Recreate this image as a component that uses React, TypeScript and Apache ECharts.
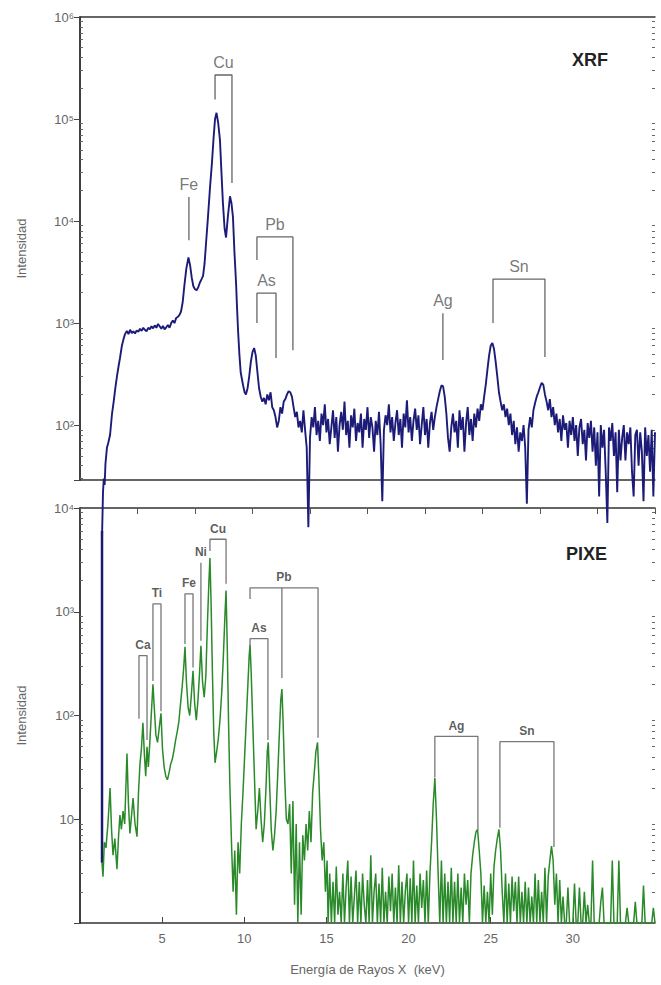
import React, { useEffect, useRef } from "react";
import * as echarts from "echarts";

// XRF spectrum: [energy (keV), counts]
const xrfSpectrum: number[][] = [
  [1.34, 8], [1.40, 22], [1.45, 30], [1.50, 26], [1.55, 42], [1.64, 60], [1.73, 68], [1.83, 80], [1.95, 130], [2.05, 170],
  [2.15, 230], [2.25, 300], [2.35, 380], [2.43, 450], [2.55, 600], [2.65, 700], [2.74, 780], [2.85, 840], [2.95, 780], [3.05, 860],
  [3.15, 800], [3.25, 830], [3.35, 790], [3.45, 850], [3.55, 820], [3.65, 880], [3.75, 840], [3.85, 900], [3.95, 860], [4.05, 830],
  [4.15, 900], [4.25, 870], [4.35, 930], [4.45, 890], [4.55, 950], [4.65, 900], [4.75, 980], [4.85, 930], [4.95, 880], [5.05, 940],
  [5.15, 870], [5.25, 910], [5.35, 960], [5.45, 900], [5.55, 1000], [5.65, 1060], [5.75, 1000], [5.85, 1120], [5.95, 1150], [6.05, 1200],
  [6.15, 1300], [6.25, 1600], [6.35, 2300], [6.47, 3400], [6.60, 4400], [6.70, 3700], [6.80, 2800], [6.90, 2300], [7.00, 2150], [7.10, 2100],
  [7.20, 2250], [7.30, 2500], [7.40, 2700], [7.49, 2900], [7.58, 3800], [7.67, 6000], [7.79, 11000], [7.92, 22000], [8.03, 37000], [8.13, 65000],
  [8.22, 100000], [8.31, 115000], [8.41, 92000], [8.52, 62000], [8.61, 30000], [8.70, 15000], [8.80, 8500], [8.89, 6900], [9.00, 11000], [9.13, 17500],
  [9.22, 15000], [9.31, 11000], [9.40, 5000], [9.50, 2450], [9.56, 1400], [9.62, 850], [9.70, 500], [9.78, 330], [9.86, 280], [9.94, 240],
  [10.02, 210], [10.10, 200], [10.2, 230], [10.3, 300], [10.4, 420], [10.5, 520], [10.6, 570], [10.7, 480], [10.8, 330], [10.9, 230],
  [11.0, 190], [11.1, 170], [11.2, 185], [11.3, 160], [11.4, 200], [11.5, 175], [11.6, 210], [11.7, 150], [11.8, 140], [11.9, 120],
  [12.0, 95], [12.1, 110], [12.2, 150], [12.3, 130], [12.4, 170], [12.5, 180], [12.6, 200], [12.7, 215], [12.8, 210], [12.9, 190],
  [13.0, 150], [13.1, 120], [13.2, 135], [13.3, 95], [13.4, 110], [13.5, 85], [13.6, 140], [13.7, 90], [13.8, 60], [13.9, 10],
  [14.0, 75], [14.1, 120], [14.2, 95], [14.3, 150], [14.4, 80], [14.5, 110], [14.6, 70], [14.7, 130], [14.8, 100], [14.9, 160],
  [15.0, 85], [15.1, 115], [15.2, 65], [15.3, 95], [15.4, 140], [15.5, 75], [15.6, 120], [15.7, 55], [15.8, 100], [15.9, 135],
  [16.0, 90], [16.1, 170], [16.2, 80], [16.3, 110], [16.4, 60], [16.5, 125], [16.6, 95], [16.7, 145], [16.8, 70], [16.9, 105],
  [17.0, 85], [17.1, 130], [17.2, 60], [17.3, 115], [17.4, 90], [17.5, 150], [17.6, 75], [17.7, 120], [17.8, 95], [17.9, 55],
  [18.0, 110], [18.1, 80], [18.2, 135], [18.3, 65], [18.4, 18], [18.5, 90], [18.6, 125], [18.7, 100], [18.8, 160], [18.9, 85],
  [19.0, 120], [19.1, 70], [19.2, 105], [19.3, 140], [19.4, 80], [19.5, 115], [19.6, 60], [19.7, 130], [19.8, 95], [19.9, 175],
  [20.0, 85], [20.1, 120], [20.2, 70], [20.3, 110], [20.4, 145], [20.5, 90], [20.6, 125], [20.7, 65], [20.8, 100], [20.9, 150],
  [21.0, 80], [21.1, 115], [21.2, 60], [21.3, 105], [21.4, 135], [21.5, 90], [21.6, 120], [21.7, 150], [21.8, 180], [21.9, 215],
  [22.0, 245], [22.1, 240], [22.2, 190], [22.3, 130], [22.4, 75], [22.5, 55], [22.6, 95], [22.7, 130], [22.8, 85], [22.9, 110],
  [23.0, 60], [23.1, 140], [23.2, 90], [23.3, 120], [23.4, 55], [23.5, 105], [23.6, 150], [23.7, 80], [23.8, 115], [23.9, 70],
  [24.0, 130], [24.1, 95], [24.2, 145], [24.3, 110], [24.4, 160], [24.5, 140], [24.6, 190], [24.7, 250], [24.8, 350], [24.9, 480],
  [25.0, 600], [25.1, 640], [25.2, 560], [25.3, 420], [25.4, 300], [25.5, 210], [25.6, 170], [25.7, 140], [25.8, 160], [25.9, 120],
  [26.0, 145], [26.1, 100], [26.2, 130], [26.3, 80], [26.4, 110], [26.5, 65], [26.6, 95], [26.7, 55], [26.8, 85], [26.9, 70],
  [27.0, 100], [27.1, 60], [27.2, 17], [27.3, 90], [27.4, 120], [27.5, 95], [27.6, 140], [27.7, 165], [27.8, 190], [27.9, 210],
  [28.0, 235], [28.1, 260], [28.2, 250], [28.3, 200], [28.4, 170], [28.5, 140], [28.6, 180], [28.7, 120], [28.8, 150], [28.9, 100],
  [29.0, 130], [29.1, 85], [29.2, 115], [29.3, 70], [29.4, 125], [29.5, 90], [29.6, 105], [29.7, 60], [29.8, 110], [29.9, 80],
  [30.0, 120], [30.1, 70], [30.2, 100], [30.3, 50], [30.4, 95], [30.5, 115], [30.6, 65], [30.7, 90], [30.8, 45], [30.9, 105],
  [31.0, 75], [31.1, 110], [31.2, 55], [31.3, 95], [31.4, 40], [31.5, 85], [31.6, 20], [31.7, 100], [31.8, 60], [31.9, 90],
  [32.0, 35], [32.1, 11], [32.2, 95], [32.3, 70], [32.4, 105], [32.5, 50], [32.6, 85], [32.7, 22], [32.8, 90], [32.9, 45],
  [33.0, 75], [33.1, 100], [33.2, 45], [33.3, 85], [33.4, 65], [33.5, 95], [33.6, 35], [33.7, 20], [33.8, 80], [33.9, 90],
  [34.0, 40], [34.1, 85], [34.2, 55], [34.3, 18], [34.4, 95], [34.5, 50], [34.6, 80], [34.7, 35], [34.8, 90], [34.9, 20],
  [35.0, 85],
];

// PIXE spectrum: [energy (keV), counts]
const pixeSpectrum: number[][] = [
  [1.34, 3.8], [1.40, 2.8], [1.48, 6], [1.58, 5.3], [1.70, 9], [1.83, 20], [1.92, 8], [2.01, 4.5], [2.12, 6.5], [2.25, 3.3],
  [2.35, 7], [2.43, 11], [2.52, 8], [2.62, 12], [2.72, 9], [2.86, 43], [2.95, 14], [3.04, 7.3], [3.14, 11], [3.23, 16],
  [3.35, 9], [3.47, 6.8], [3.56, 18], [3.65, 34], [3.74, 48], [3.83, 85], [3.92, 42], [4.00, 26], [4.08, 50], [4.16, 32],
  [4.25, 55], [4.35, 110], [4.44, 200], [4.52, 120], [4.62, 65], [4.72, 55], [4.82, 75], [4.93, 105], [5.02, 48], [5.12, 32],
  [5.22, 26], [5.32, 24], [5.42, 28], [5.52, 34], [5.62, 38], [5.72, 46], [5.82, 58], [5.92, 70], [6.02, 88], [6.12, 130],
  [6.22, 190], [6.32, 300], [6.39, 460], [6.48, 210], [6.58, 120], [6.68, 100], [6.78, 160], [6.88, 270], [6.98, 130], [7.08, 90],
  [7.18, 140], [7.28, 260], [7.36, 470], [7.46, 210], [7.56, 150], [7.66, 240], [7.76, 800], [7.85, 2000], [7.91, 3300], [7.98, 1200],
  [8.06, 260], [8.14, 70], [8.22, 35], [8.32, 45], [8.42, 60], [8.52, 90], [8.62, 160], [8.72, 350], [8.82, 900], [8.89, 1600],
  [8.96, 500], [9.04, 90], [9.12, 22], [9.22, 6], [9.32, 2], [9.42, 5], [9.52, 1.2], [9.62, 6], [9.72, 3], [9.82, 9],
  [9.92, 18], [10.02, 40], [10.12, 90], [10.22, 200], [10.30, 380], [10.35, 480], [10.42, 260], [10.52, 80], [10.62, 25], [10.72, 8],
  [10.82, 12], [10.92, 20], [11.02, 10], [11.12, 6], [11.22, 9], [11.32, 20], [11.40, 45], [11.46, 55], [11.54, 22], [11.64, 8],
  [11.74, 5], [11.84, 7], [11.94, 12], [12.04, 28], [12.14, 70], [12.22, 140], [12.29, 180], [12.36, 90], [12.46, 25], [12.56, 10],
  [12.66, 9], [12.76, 14], [12.86, 3], [12.96, 15], [13.06, 1.5], [13.16, 9], [13.26, 1], [13.36, 6], [13.46, 1.2], [13.56, 7],
  [13.66, 4], [13.76, 9], [13.86, 5], [13.96, 12], [14.06, 6], [14.16, 18], [14.26, 28], [14.36, 45], [14.46, 55], [14.54, 25],
  [14.64, 8], [14.74, 4], [14.84, 6], [14.94, 2], [15.04, 4], [15.1, 1], [15.2, 3], [15.3, 1], [15.4, 2.5], [15.5, 1],
  [15.6, 3.5], [15.7, 1.2], [15.8, 2], [15.9, 1], [16.0, 3], [16.1, 1], [16.2, 2.2], [16.3, 4], [16.4, 1], [16.5, 2.8],
  [16.6, 1], [16.7, 1.8], [16.8, 3.2], [16.9, 1], [17.0, 2.5], [17.1, 1], [17.2, 3], [17.3, 1.5], [17.4, 1], [17.5, 2.6],
  [17.6, 1], [17.7, 4.5], [17.8, 1], [17.9, 2], [18.0, 3], [18.1, 1], [18.2, 2.4], [18.3, 1], [18.4, 3.4], [18.5, 1],
  [18.6, 2], [18.7, 1], [18.8, 2.8], [18.9, 1.3], [19.0, 3], [19.1, 1], [19.2, 2.2], [19.3, 1], [19.4, 3.6], [19.5, 1],
  [19.6, 2.5], [19.7, 1], [19.8, 2], [19.9, 3], [20.0, 1], [20.1, 2.7], [20.2, 1], [20.3, 4], [20.4, 1], [20.5, 2.3],
  [20.6, 1], [20.7, 3], [20.8, 1.4], [20.9, 2.6], [21.0, 1], [21.1, 3.2], [21.2, 1], [21.3, 3], [21.4, 6], [21.5, 14],
  [21.6, 25], [21.7, 10], [21.8, 3], [21.9, 1], [22.0, 4], [22.1, 1], [22.2, 3], [22.3, 1], [22.4, 2.5], [22.5, 1],
  [22.6, 3.4], [22.7, 1], [22.8, 2.5], [22.9, 1], [23.0, 3], [23.1, 1], [23.2, 2.2], [23.3, 1], [23.4, 3], [23.5, 1.5],
  [23.6, 2.6], [23.7, 1], [23.8, 3], [23.9, 4.5], [24.0, 6], [24.1, 7.5], [24.2, 8], [24.3, 5], [24.4, 3], [24.5, 1],
  [24.6, 2.3], [24.7, 1], [24.8, 2], [24.9, 1], [25.0, 3], [25.1, 1.2], [25.2, 3.5], [25.3, 5], [25.4, 6.5], [25.5, 8],
  [25.6, 5], [25.7, 2], [25.8, 1], [25.9, 3], [26.0, 1], [26.1, 2.4], [26.2, 1], [26.3, 2.8], [26.4, 1.3], [26.5, 2.5],
  [26.6, 1], [26.7, 2.8], [26.8, 1], [26.9, 2], [27.0, 1], [27.1, 2.5], [27.2, 1], [27.3, 2.2], [27.4, 1], [27.5, 1.8],
  [27.6, 1], [27.7, 3], [27.8, 1], [27.9, 2.6], [28.0, 1], [28.1, 2], [28.2, 1], [28.3, 3.4], [28.4, 1], [28.5, 2.8],
  [28.6, 4], [28.7, 5.5], [28.8, 4], [28.9, 1.5], [29.0, 3], [29.1, 1], [29.2, 2.6], [29.3, 1], [29.4, 1.8], [29.5, 1],
  [29.6, 1], [29.7, 2.2], [29.8, 1], [29.9, 1], [30.0, 1], [30.1, 2.4], [30.2, 1], [30.3, 1], [30.4, 2.2], [30.5, 1],
  [30.6, 1], [30.7, 2], [30.8, 1], [30.9, 1.5], [31.0, 1], [31.1, 1], [31.2, 4], [31.3, 1], [31.4, 1], [31.5, 1],
  [31.6, 1], [31.7, 1.6], [31.8, 2.2], [31.9, 1], [32.0, 1], [32.1, 1], [32.2, 1], [32.3, 1], [32.4, 4], [32.5, 1],
  [32.6, 1], [32.7, 1], [32.8, 4], [32.9, 1], [33.0, 1], [33.1, 1], [33.2, 1], [33.3, 1.4], [33.4, 1], [33.5, 1],
  [33.6, 1], [33.7, 1], [33.8, 1.6], [33.9, 1], [34.0, 1], [34.1, 1], [34.2, 1], [34.3, 2.3], [34.4, 1], [34.5, 1],
  [34.6, 1], [34.7, 1], [34.8, 1], [34.9, 1.4], [35.0, 1],
];

// low-energy blue trace in the PIXE panel
const pixeLowEnergyTrace: number[][] = [[1.34, 6000], [1.34, 3.8]];

// peak identification markers: [energy, counts] polylines
const xrfPeakNames = ["Fe", "Cu", "Pb", "As", "Ag", "Sn"];
const xrfPeakMarkers: number[][][] = [
  [[6.63, 6500], [6.63, 17200]],
  [[8.22, 155000], [8.22, 270000], [9.25, 270000], [9.25, 23600]],
  [[10.77, 4150], [10.77, 7000], [12.96, 7000], [12.96, 543]],
  [[10.77, 1000], [10.77, 1970], [11.93, 1970], [11.93, 454]],
  [[22.09, 434], [22.09, 1250]],
  [[25.14, 1000], [25.14, 2700], [28.30, 2700], [28.30, 465]],
];

const pixePeakNames = ["Ca", "Ti", "Fe", "Ni", "Cu", "As", "Pb", "Ag", "Sn"];
const pixePeakMarkers: number[][][] = [
  [[3.59, 93], [3.59, 378], [4.08, 378], [4.08, 58]],
  [[4.44, 215], [4.44, 1190], [4.93, 1190], [4.93, 110]],
  [[6.39, 490], [6.39, 1490], [6.88, 1490], [6.88, 290]],
  [[7.36, 525], [7.36, 2960]],
  [[7.91, 3860], [7.91, 5000], [8.89, 5000], [8.89, 1860]],
  [[10.35, 470], [10.35, 550], [11.44, 550], [11.44, 58]],
  [[10.35, 1330], [10.35, 1700], [12.29, 1700], [12.29, 230], [12.29, 1700], [14.49, 1700], [14.49, 61]],
  [[21.6, 25.3], [21.6, 63], [24.22, 63], [24.22, 7.9]],
  [[25.56, 8.3], [25.56, 56], [28.85, 56], [28.85, 5.4]],
];

// decades that carry minor (2..9) ticks on each panel's log axis
const xrfDecades = [1, 2, 3, 4, 5];
const pixeDecades = [0, 1, 2, 3];

const panelTitles = ["XRF", "PIXE"];
const axisTitleY = "Intensidad";
const axisTitleX = "Energía de Rayos X  (keV)";

const FONT = "'Liberation Sans', Arial, sans-serif";
const SUP = "⁰¹²³⁴⁵⁶⁷⁸⁹";
const powLabel = (v: number) => {
  const e = Math.round(Math.log10(v));
  if (e === 0) return "1";
  if (e === 1) return "10";
  return "10" + String(e).split("").map((d) => SUP[+d]).join("");
};
const minorValues = (decades: number[], min: number, max: number) => {
  const out: number[] = [];
  decades.forEach((d) => {
    for (let k = 2; k <= 9; k++) {
      const v = k * Math.pow(10, d);
      if (v > min && v < max) out.push(v);
    }
  });
  return out;
};

export default function App() {
  const ref = useRef<HTMLDivElement>(null);
  useEffect(() => {
    document.body.style.margin = "0";
    const chart = echarts.init(ref.current!, undefined, { renderer: "svg" });
    const axisLine = { show: true, lineStyle: { color: "#333", width: 1.5 } };

    const leftY = (gridIndex: number, min: number, max: number) => ({
      type: "log", logBase: 10, gridIndex, min, max, position: "left",
      axisLine, splitLine: { show: false },
      axisTick: { show: true, length: 6, lineStyle: { color: "#444" } },
      axisLabel: { show: true, formatter: powLabel, showMinLabel: false, color: "#666", fontSize: 13, fontFamily: FONT, margin: 6 },
      name: axisTitleY, nameLocation: "middle", nameGap: 52, nameRotate: 90,
      nameTextStyle: { color: "#666", fontSize: 13, fontFamily: FONT },
    });
    const rightY = (gridIndex: number, min: number, max: number) => ({
      type: "log", logBase: 10, gridIndex, min, max, position: "right",
      axisLine, splitLine: { show: false },
      axisTick: { show: true, inside: true, length: 6, lineStyle: { color: "#444" } },
      axisLabel: { show: false },
    });
    const minorY = (gridIndex: number, min: number, max: number, position: string, decades: number[]) => ({
      type: "log", logBase: 10, gridIndex, min, max, position,
      axisLine: { show: false }, splitLine: { show: false }, axisLabel: { show: false },
      axisTick: { show: true, inside: true, length: 3, customValues: minorValues(decades, min, max), lineStyle: { color: "#666" } },
    });

    const markerSeries = (names: string[], markers: number[][][], xi: number, yi: number, fontSize: number, bold: boolean, color: string, lineColor: string) => {
      const s: any[] = markers.map((m, i) => ({
        type: "line", name: names[i], xAxisIndex: xi, yAxisIndex: yi, data: m,
        showSymbol: false, symbol: "none", silent: true, clip: false,
        lineStyle: { color: lineColor, width: 1.3 }, z: 4,
      }));
      s.push({
        type: "scatter", xAxisIndex: xi, yAxisIndex: yi, symbolSize: 1, silent: true, clip: false,
        itemStyle: { color: "rgba(0,0,0,0)" }, z: 5,
        data: markers.map((m, i) => {
          const xs = m.map((p) => p[0]);
          const top = Math.max(...m.map((p) => p[1]));
          return { name: names[i], value: [(Math.min(...xs) + Math.max(...xs)) / 2, top] };
        }),
        label: {
          show: true, position: "top", distance: 4, formatter: (p: any) => p.name,
          fontSize, fontWeight: bold ? "bold" : "normal", color, fontFamily: FONT,
        },
      });
      return s;
    };

    chart.setOption({
      animation: false,
      backgroundColor: "#ffffff",
      grid: [
        { left: 80, right: 6, top: 17, height: 463 },
        { left: 80, right: 6, top: 508, bottom: 62 },
      ],
      xAxis: [
        { type: "value", gridIndex: 0, min: 0, max: 35, position: "bottom", axisLine, axisTick: { show: false }, axisLabel: { show: false }, splitLine: { show: false } },
        { type: "value", gridIndex: 0, min: 0, max: 35, position: "top", axisLine, axisTick: { show: false }, axisLabel: { show: false }, splitLine: { show: false } },
        {
          type: "value", gridIndex: 1, min: 0, max: 35, interval: 5, position: "bottom", axisLine,
          axisTick: { show: true, inside: true, length: 6, lineStyle: { color: "#444" } },
          axisLabel: { show: true, showMinLabel: false, showMaxLabel: false, color: "#666", fontSize: 13, fontFamily: FONT, margin: 9 },
          splitLine: { show: false },
          name: axisTitleX, nameLocation: "middle", nameGap: 40,
          nameTextStyle: { color: "#666", fontSize: 13, fontFamily: FONT },
        },
        {
          type: "value", gridIndex: 1, min: 0, max: 35, interval: 3.5, position: "top", axisLine,
          axisTick: { show: true, inside: true, length: 6, lineStyle: { color: "#555" } },
          axisLabel: { show: false }, splitLine: { show: false },
        },
      ],
      yAxis: [
        leftY(0, 29, 1000000), rightY(0, 29, 1000000), leftY(1, 1, 10000), rightY(1, 1, 10000),
        minorY(0, 29, 1000000, "left", xrfDecades), minorY(0, 29, 1000000, "right", xrfDecades),
        minorY(1, 1, 10000, "left", pixeDecades), minorY(1, 1, 10000, "right", pixeDecades),
      ],
      graphic: [
        { type: "text", left: 572, top: 51, style: { text: panelTitles[0], font: `bold 18px ${FONT}`, fill: "#222" } },
        { type: "text", left: 566, top: 545, style: { text: panelTitles[1], font: `bold 18px ${FONT}`, fill: "#222" } },
      ],
      series: [
        {
          type: "line", name: "XRF", xAxisIndex: 0, yAxisIndex: 0, data: xrfSpectrum,
          showSymbol: false, symbol: "none", clip: false, lineStyle: { color: "#1c1c78", width: 1.9 }, z: 3,
        },
        {
          type: "line", name: "PIXE low", xAxisIndex: 2, yAxisIndex: 2, data: pixeLowEnergyTrace,
          showSymbol: false, symbol: "none", lineStyle: { color: "#1a1a6e", width: 2.5 }, z: 3,
        },
        {
          type: "line", name: "PIXE", xAxisIndex: 2, yAxisIndex: 2, data: pixeSpectrum,
          showSymbol: false, symbol: "none", lineStyle: { color: "#2a8a2a", width: 1.5 }, z: 3,
        },
        ...markerSeries(xrfPeakNames, xrfPeakMarkers, 0, 0, 16, false, "#555", "#666"),
        ...markerSeries(pixePeakNames, pixePeakMarkers, 2, 2, 12, true, "#333", "#777"),
      ],
    });
    return () => chart.dispose();
  }, []);
  return <div ref={ref} style={{ position: "fixed", left: 0, top: 0, width: 661, height: 985 }} />;
}
